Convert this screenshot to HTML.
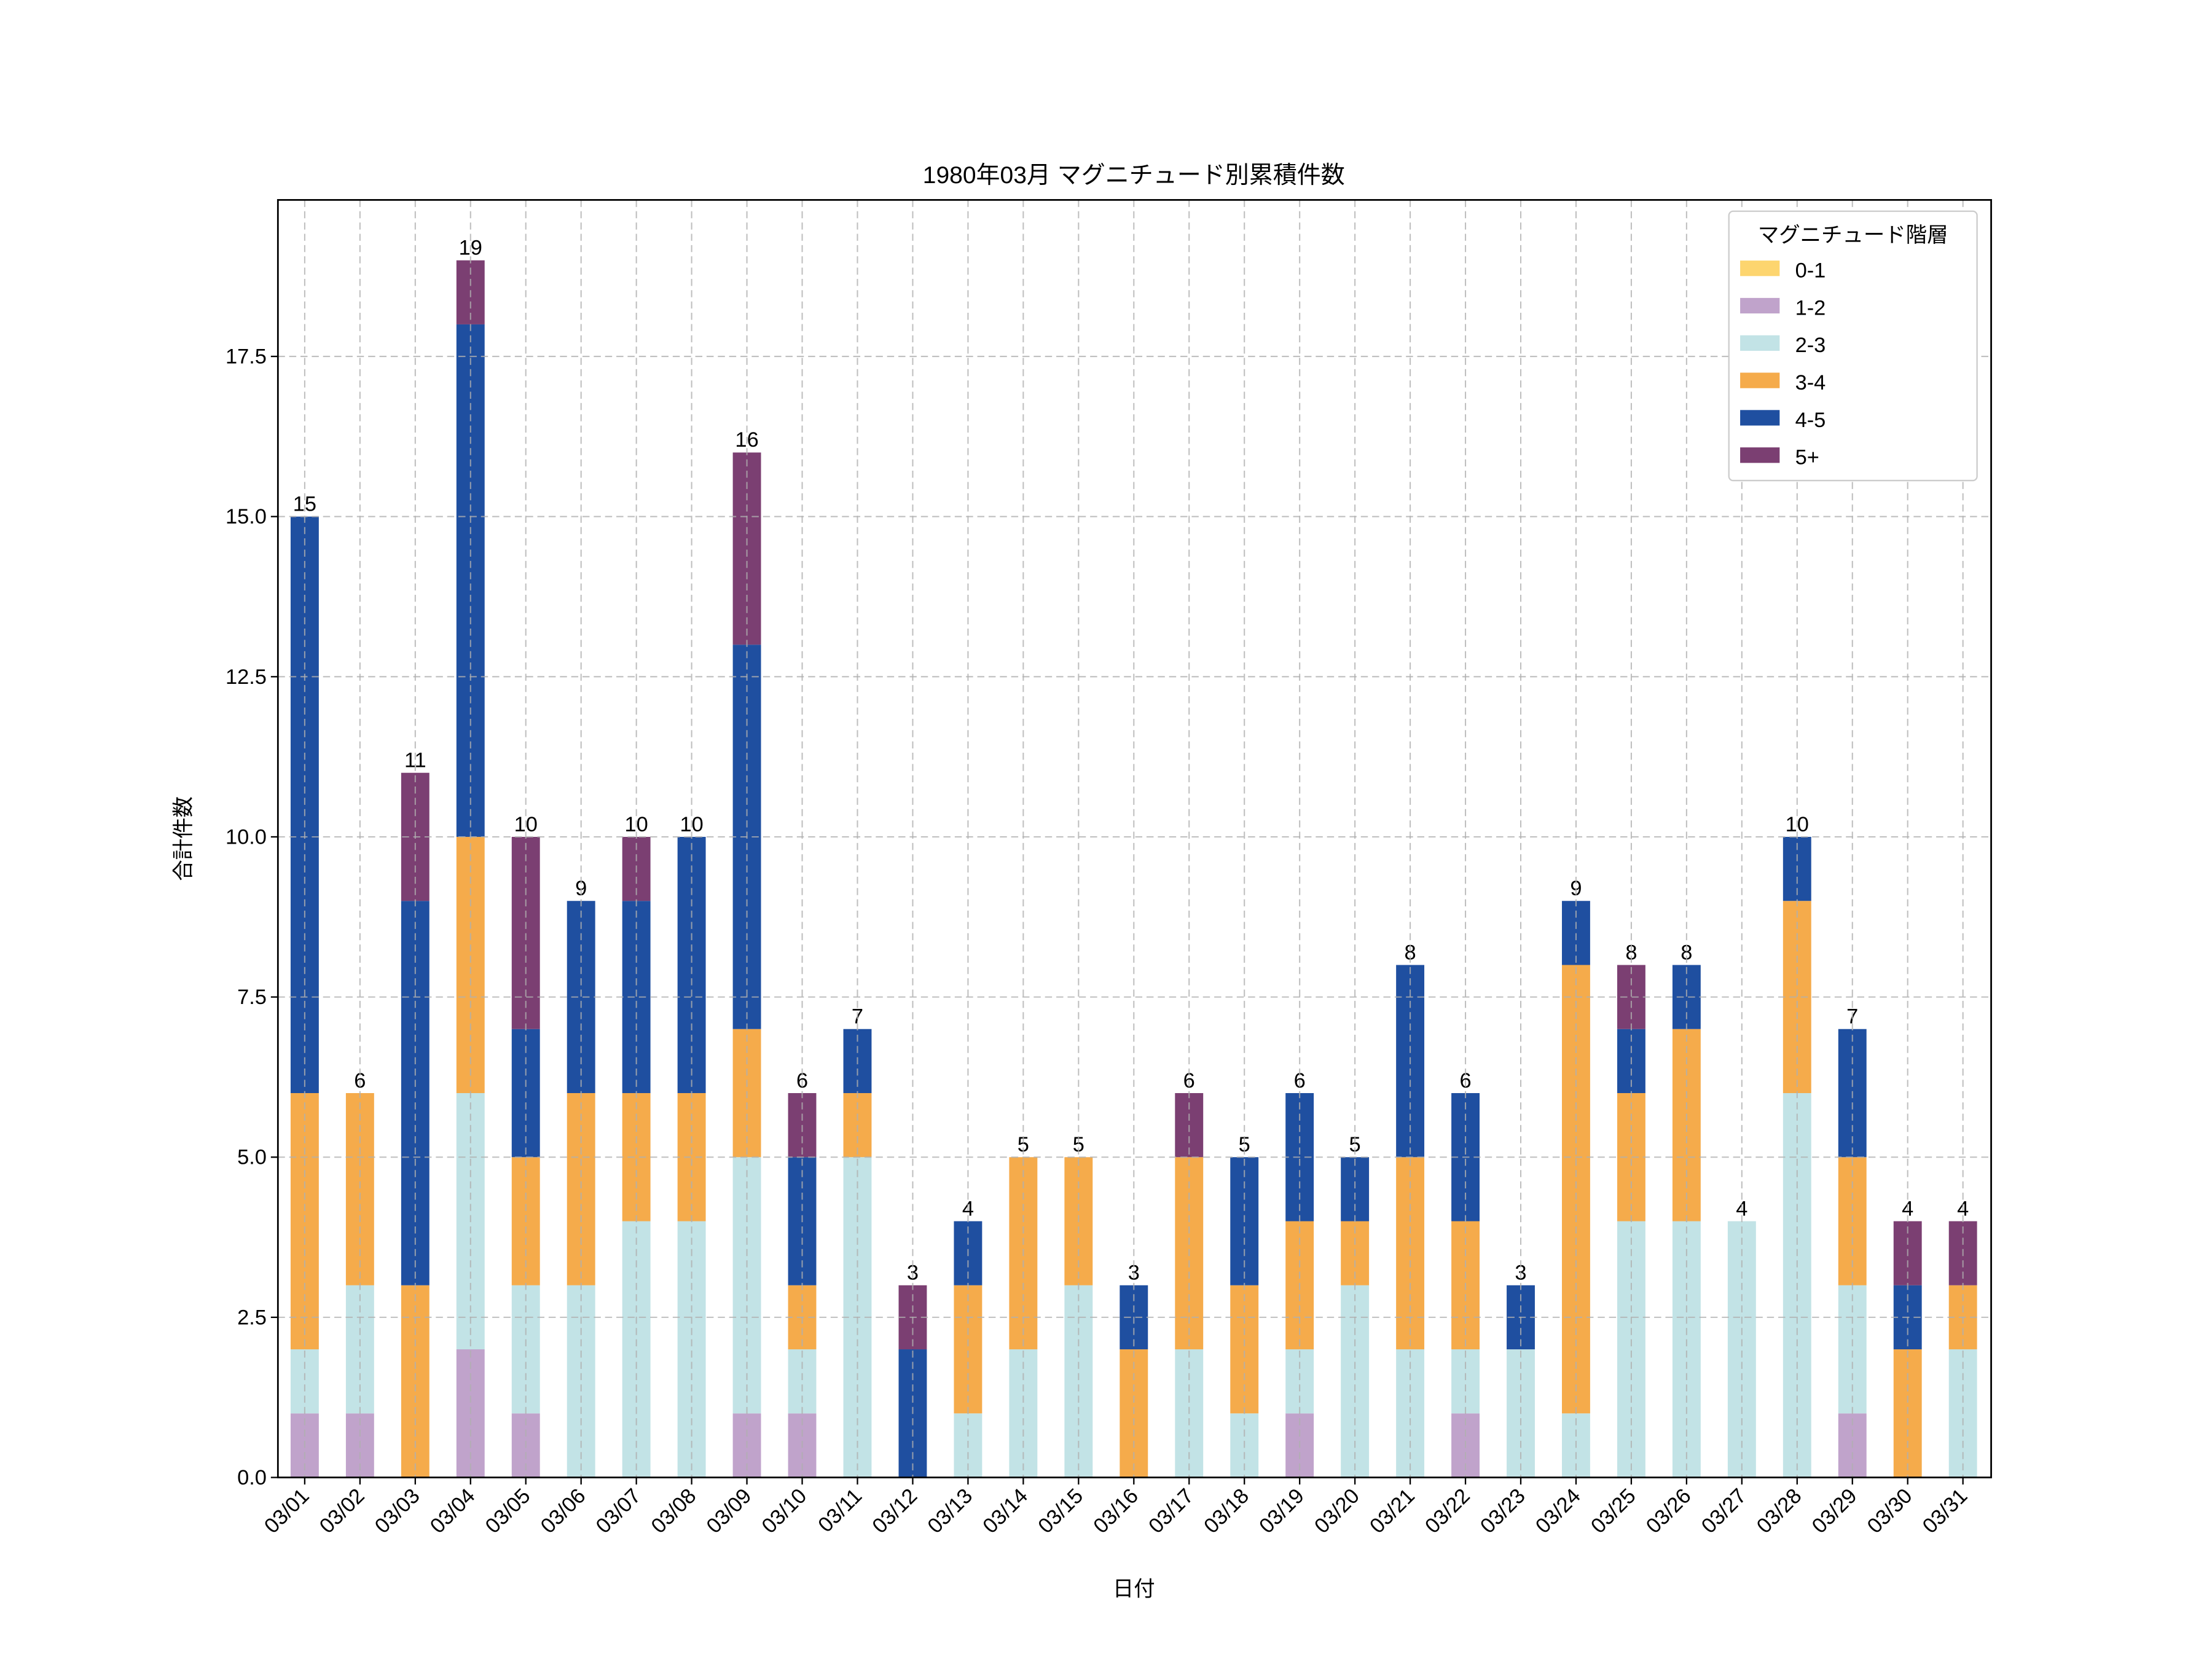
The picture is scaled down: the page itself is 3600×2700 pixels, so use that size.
<!DOCTYPE html>
<html><head><meta charset="utf-8"><style>
html,body{margin:0;padding:0;background:#fff}
svg{display:block}
text{font-family:"Liberation Sans","Noto Sans CJK JP",sans-serif;fill:#000}
</style></head><body>
<svg id="s" width="3600" height="2700" viewBox="0 0 1560 1170" xmlns="http://www.w3.org/2000/svg">
<rect width="1560" height="1170" fill="#fff"/>
<g transform="translate(196,141) scale(0.99444) translate(-196,-141)">
<g id="bars"></g><g id="grid"></g><g id="ax"></g>
<text x="803" y="129" font-size="17" text-anchor="middle">1980年03月 マグニチュード別累積件数</text>
<text x="803" y="1131" font-size="15" text-anchor="middle">日付</text>
<text transform="translate(134,594) rotate(-90)" font-size="15" text-anchor="middle">合計件数</text>
<g id="leg">
<rect x="1225" y="149" width="176" height="191" rx="3" fill="#fff" stroke="#ccc"/>
<text x="1313" y="171" font-size="15" text-anchor="middle">マグニチュード階層</text>
</g>
</g>
</svg>
<script>
const NS="http://www.w3.org/2000/svg";
function el(p,t,a,txt){const e=document.createElementNS(NS,t);for(const k in a)e.setAttribute(k,a[k]);if(txt!=null)e.textContent=txt;document.getElementById(p).appendChild(e);return e;}
const cols=["#c0a3cb","#c2e3e6","#f5ab4b","#1f4fa0","#7b3f72"];
const D=[[1,1,4,9,0],[1,2,3,0,0],[0,0,3,6,2],[2,4,4,8,1],[1,2,2,2,3],[0,3,3,3,0],[0,4,2,3,1],[0,4,2,4,0],[1,4,2,6,3],[1,1,1,2,1],[0,5,1,1,0],[0,0,0,2,1],[0,1,2,1,0],[0,2,3,0,0],[0,3,2,0,0],[0,0,2,1,0],[0,2,3,0,1],[0,1,2,2,0],[1,1,2,2,0],[0,3,1,1,0],[0,2,3,3,0],[1,1,2,2,0],[0,2,0,1,0],[0,1,7,1,0],[0,4,2,1,1],[0,4,3,1,0],[0,4,0,0,0],[0,6,3,1,0],[1,2,2,2,0],[0,0,2,1,1],[0,2,1,0,1]];
const L=196,R=1411,T=141,B=1047,U=45.43;
const X=i=>215+i*39.2;
D.forEach((d,i)=>{let c=0;const x=X(i);d.forEach((v,j)=>{if(v>0){el("bars","rect",{x:x-10,y:B-(c+v)*U,width:20,height:v*U,fill:cols[j]});}c+=v;});
el("bars","text",{x:x,y:B-c*U-4,"font-size":15,"text-anchor":"middle"},c);
el("grid","line",{x1:x,x2:x,y1:T,y2:B,stroke:"#b0b0b0","stroke-dasharray":"5,3","stroke-width":0.9,opacity:0.8});
el("ax","line",{x1:x,x2:x,y1:B,y2:B+5,stroke:"#000"});
const lab="03/"+String(i+1).padStart(2,"0");
el("ax","text",{transform:`translate(${x+4},${B+14}) rotate(-45)`,"font-size":15,"text-anchor":"end"},lab);
});
for(let k=0;k<=7;k++){const v=k*2.5,y=B-v*U;
el("grid","line",{x1:L,x2:R,y1:y,y2:y,stroke:"#b0b0b0","stroke-dasharray":"5,3","stroke-width":0.9,opacity:0.8});
el("ax","line",{x1:L-5,x2:L,y1:y,y2:y,stroke:"#000"});
el("ax","text",{x:L-8,y:y+5,"font-size":15,"text-anchor":"end"},v.toFixed(1));}
el("ax","rect",{x:L,y:T,width:R-L,height:B-T,fill:"none",stroke:"#000","stroke-width":1.2});
const lc=["#fdd56f"].concat(cols),ln=["0-1","1-2","2-3","3-4","4-5","5+"];
ln.forEach((n,i)=>{const y=191+i*26.5;el("leg","rect",{x:1233,y:y-7,width:28,height:11,fill:lc[i]});el("leg","text",{x:1272,y:y+5,"font-size":15},n);});
</script>
</body></html>
